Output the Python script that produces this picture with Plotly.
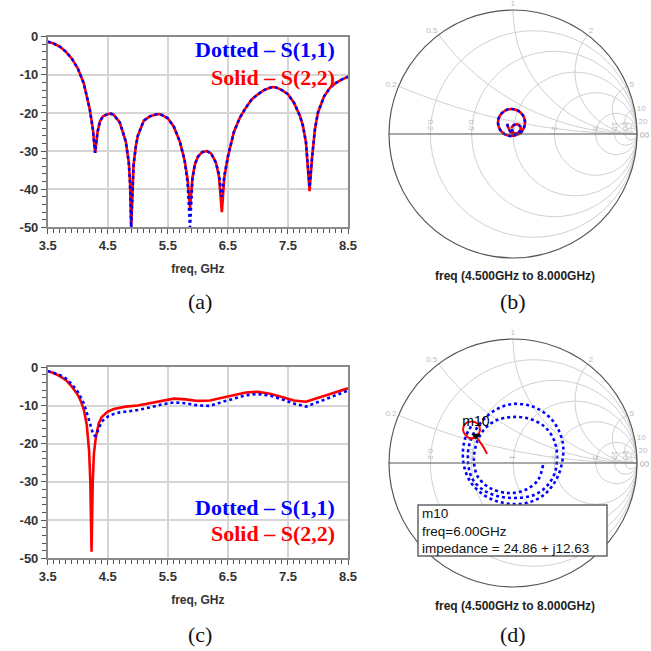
import numpy as np
import plotly.graph_objects as go

W = H = 651

def px(x):
    return x / W

def py(y):
    return 1 - y / H

# ---------------- DATA ----------------
# panel (a): return loss, GHz / dB
freq_a = [3.5, 3.6, 3.7, 3.8, 3.9, 4.0, 4.1, 4.2, 4.25, 4.29, 4.33, 4.37, 4.42,
          4.5, 4.55, 4.6, 4.7, 4.8, 4.85, 4.87, 4.89, 4.91, 4.93, 4.97,
          5.0, 5.1, 5.2, 5.3, 5.35, 5.4, 5.5, 5.6, 5.7, 5.78, 5.83, 5.87, 5.91, 5.95,
          6.0, 6.07, 6.15, 6.22, 6.3, 6.35, 6.4, 6.44,
          6.5, 6.6, 6.7, 6.8, 6.9, 7.0, 7.1, 7.2, 7.25, 7.3, 7.4, 7.5,
          7.6, 7.7, 7.75, 7.8, 7.86, 7.9, 7.95, 8.0, 8.1, 8.2, 8.3, 8.4, 8.5]
s22_a = [-1.3, -1.8, -2.6, -3.9, -5.7, -8.3, -12.2, -19.0, -24.0, -30.5, -25.0, -22.2, -20.9,
         -20.3, -20.2, -20.5, -22.5, -27.5, -33.0, -38.0, -50.0, -38.5, -33.5, -28.5,
         -26.0, -22.0, -20.9, -20.4, -20.3, -20.5, -21.4, -23.6, -27.5, -32.5, -37.5, -45.0, -37.0, -33.5,
         -31.5, -30.3, -30.0, -30.6, -33.0, -36.5, -46.0, -37.0,
         -31.5, -25.0, -21.2, -18.6, -16.4, -15.1, -14.0, -13.4, -13.2, -13.3, -14.0, -15.1,
         -17.3, -20.8, -23.4, -27.7, -40.5, -32.0, -24.2, -19.9, -15.7, -13.4, -12.1, -11.2, -10.5]
s11_a = [-1.3, -1.8, -2.6, -3.9, -5.7, -8.3, -12.2, -19.0, -24.0, -30.5, -25.0, -22.2, -20.9,
         -20.3, -20.2, -20.5, -22.5, -27.5, -33.0, -38.0, -50.0, -38.5, -33.5, -28.5,
         -26.0, -22.0, -20.9, -20.4, -20.3, -20.5, -21.4, -23.6, -27.5, -32.5, -38.5, -50.0, -37.5, -33.5,
         -31.5, -30.3, -30.0, -30.6, -33.0, -36.0, -42.0, -36.5,
         -31.5, -25.0, -21.2, -18.6, -16.4, -15.1, -14.0, -13.4, -13.2, -13.3, -14.0, -15.1,
         -17.3, -20.8, -23.4, -27.7, -39.5, -32.0, -24.2, -19.9, -15.7, -13.4, -12.1, -11.2, -10.5]

# panel (c)
freq_c = [3.5, 3.6, 3.7, 3.8, 3.9, 4.0, 4.05, 4.1, 4.15, 4.19, 4.21, 4.23, 4.25, 4.27, 4.3,
          4.35, 4.4, 4.5, 4.6, 4.7, 4.8, 5.0, 5.2, 5.4, 5.6, 5.8, 6.0, 6.2, 6.4, 6.6, 6.8,
          7.0, 7.2, 7.4, 7.6, 7.8, 8.0, 8.2, 8.4, 8.5]
s22_c = [-1.0, -1.5, -2.3, -3.3, -5.0, -7.2, -8.8, -11.0, -15.0, -22.0, -30.0, -48.3, -30.0, -22.5, -18.5,
         -14.7, -13.0, -11.6, -10.9, -10.5, -10.3, -10.0, -9.4, -8.7, -8.2, -8.4, -8.8, -8.7, -8.0, -7.2, -6.6,
         -6.4, -6.9, -7.8, -8.7, -9.0, -8.0, -6.9, -5.9, -5.5]
s11_c = [-1.0, -1.4, -2.0, -2.9, -4.4, -6.4, -7.8, -9.4, -11.8, -14.0, -15.2, -16.4, -17.2, -17.8, -18.0,
         -16.0, -14.2, -12.9, -12.2, -11.8, -11.6, -11.2, -10.5, -9.7, -9.2, -9.4, -10.0, -10.1, -9.1, -8.1, -7.3,
         -7.0, -7.4, -8.4, -9.5, -10.3, -9.1, -7.7, -6.6, -6.1]

x_tick_vals = [3.5, 4.5, 5.5, 6.5, 7.5, 8.5]
x_tick_text = ["3.5", "4.5", "5.5", "6.5", "7.5", "8.5"]
y_tick_vals = [0, -10, -20, -30, -40, -50]
y_tick_text = ["0", "-10", "-20", "-30", "-40", "-50"]

# panel (b): reflection coefficient (Gamma)
gam_b_re = [-0.048, -0.024, 0.008, 0.056, 0.056, 0.024, -0.008, 0.000, 0.043, 0.082, 0.097,
            0.082, 0.043, -0.012, -0.067, -0.106, -0.121, -0.106, -0.067, -0.016, 0.024]
gam_b_im = [0.081, 0.024, -0.004, 0.024, 0.065, 0.077, 0.056, 0.016, -0.002, 0.038, 0.093,
            0.148, 0.187, 0.202, 0.187, 0.148, 0.093, 0.038, -0.002, -0.016, -0.008]

# panel (d): S(1,1) spiral and S(2,2) small loop (Gamma)
gam_d11_re = [0.242, 0.202, 0.097, -0.040, -0.185, -0.282, -0.315, -0.298, -0.242, -0.145, -0.008,
              0.137, 0.258, 0.331, 0.355, 0.339, 0.274, 0.169, 0.016, -0.129, -0.250, -0.331,
              -0.363, -0.355, -0.315, -0.234, -0.129, 0.000, 0.145, 0.266, 0.355, 0.403, 0.395,
              0.347, 0.258, 0.137, 0.000, -0.137, -0.258, -0.347, -0.395, -0.403, -0.379, -0.331]
gam_d11_im = [-0.016, -0.137, -0.218, -0.242, -0.202, -0.113, 0.008, 0.145, 0.258, 0.339, 0.371,
              0.355, 0.290, 0.185, 0.065, -0.073, -0.185, -0.258, -0.282, -0.266, -0.210, -0.121,
              0.008, 0.137, 0.242, 0.355, 0.435, 0.476, 0.460, 0.395, 0.290, 0.153, 0.000,
              -0.137, -0.250, -0.315, -0.331, -0.306, -0.242, -0.145, -0.024, 0.105, 0.218, 0.306]
gam_d22_re = [-0.210, -0.234, -0.266, -0.298, -0.339, -0.379, -0.403, -0.387, -0.335, -0.282, -0.266, -0.290, -0.331]
gam_d22_im = [0.073, 0.121, 0.169, 0.210, 0.198, 0.222, 0.266, 0.315, 0.335, 0.315, 0.266, 0.218, 0.194]

# marker m10 (impedance, ohm, Z0 = 50)
m10_label = "m10"
m10_freq = "6.00GHz"
m10_r = 24.86
m10_x = 12.63
z0 = 50.0

smith_ticks = [0.2, 0.5, 1, 2, 5, 10, 20]


def to_z(gre, gim):
    g = np.array(gre) + 1j * np.array(gim)
    z = (1 + g) / (1 - g)
    return z.real, z.imag


BLUE = "#0000ff"
RED = "#ff0000"
DOT = "3px,3px"

fig = go.Figure()

# (a)
fig.add_trace(go.Scatter(x=freq_a, y=s22_a, mode="lines", line=dict(color=RED, width=2.6),
                         xaxis="x", yaxis="y", showlegend=False))
fig.add_trace(go.Scatter(x=freq_a, y=s11_a, mode="lines", line=dict(color=BLUE, width=2.6, dash=DOT),
                         xaxis="x", yaxis="y", showlegend=False))
# (c)
fig.add_trace(go.Scatter(x=freq_c, y=s22_c, mode="lines", line=dict(color=RED, width=2.6),
                         xaxis="x2", yaxis="y2", showlegend=False))
fig.add_trace(go.Scatter(x=freq_c, y=s11_c, mode="lines", line=dict(color=BLUE, width=2.6, dash=DOT),
                         xaxis="x2", yaxis="y2", showlegend=False))

# (b)
zr, zi = to_z(gam_b_re, gam_b_im)
fig.add_trace(go.Scattersmith(real=zr, imag=zi, mode="lines", line=dict(color=RED, width=2.6, shape="spline"),
                              subplot="smith", showlegend=False))
fig.add_trace(go.Scattersmith(real=zr, imag=zi, mode="lines",
                              line=dict(color=BLUE, width=2.6, dash=DOT, shape="spline"),
                              subplot="smith", showlegend=False))
# (d)
zr, zi = to_z(gam_d11_re, gam_d11_im)
fig.add_trace(go.Scattersmith(real=zr, imag=zi, mode="lines",
                              line=dict(color=BLUE, width=2.6, dash=DOT, shape="spline"),
                              subplot="smith2", showlegend=False))
zr, zi = to_z(gam_d22_re, gam_d22_im)
fig.add_trace(go.Scattersmith(real=zr, imag=zi, mode="lines", line=dict(color=RED, width=2, shape="spline"),
                              subplot="smith2", showlegend=False))
fig.add_trace(go.Scattersmith(real=[m10_r / z0], imag=[m10_x / z0], mode="markers+text",
                              marker=dict(symbol="triangle-down", size=8, color="black"),
                              text=[m10_label], textposition="top center",
                              textfont=dict(family="Arial, Liberation Sans", size=14, color="black"),
                              subplot="smith2", showlegend=False))

tickfont = dict(family="Arial, Liberation Sans", size=13, color="#333333", weight="bold")
grid = "#d6d6d6"


def xaxis(dom_y_anchor):
    return dict(domain=[px(47.7), px(348)], range=[3.5, 8.5], anchor=dom_y_anchor, automargin=False,
                tickmode="array", tickvals=x_tick_vals, ticktext=x_tick_text,
                showgrid=True, gridcolor=grid, gridwidth=1.5, zeroline=False,
                showline=True, linecolor="#8a8a8a", linewidth=1.5, mirror=True,
                ticks="outside", ticklen=5, tickcolor="#555", tickwidth=1,
                minor=dict(tickmode="linear", tick0=3.5, dtick=0.1, ticks="outside", ticklen=4,
                           tickcolor="#555", showgrid=False),
                tickfont=tickfont,
                title=dict(text="freq, GHz", standoff=13,
                           font=dict(family="Arial, Liberation Sans", size=12, color="#333333", weight="bold")))


def yaxis(top, bottom, anchor):
    return dict(domain=[py(bottom), py(top)], range=[-50, 0], anchor=anchor, automargin=False,
                tickmode="array", tickvals=y_tick_vals, ticktext=y_tick_text,
                showgrid=True, gridcolor=grid, gridwidth=1.5, zeroline=False,
                showline=True, linecolor="#8a8a8a", linewidth=1.5, mirror=True,
                ticks="outside", ticklen=5, tickcolor="#555", tickwidth=1,
                minor=dict(tickmode="linear", tick0=0, dtick=2, ticks="outside", ticklen=4,
                           tickcolor="#555", showgrid=False),
                tickfont=tickfont)


smith_label_font = dict(family="Arial, Liberation Sans", size=8, color="#bbbbbb")


def smith(top):
    return dict(domain=dict(x=[px(389), px(637)], y=[py(top + 248), py(top)]),
                bgcolor="white",
                realaxis=dict(tickvals=smith_ticks, gridcolor="#d0d0d0", gridwidth=1,
                              linecolor="#555555", linewidth=1.2, showline=True,
                              tickfont=smith_label_font, ticks=""),
                imaginaryaxis=dict(tickvals=smith_ticks, gridcolor="#d0d0d0", gridwidth=1,
                                   linecolor="#555555", linewidth=1.2, showline=True,
                                   tickfont=smith_label_font, ticks=""))


serif_b = dict(family="Times New Roman, Liberation Serif", size=22, weight="bold")
ann = []
for (yd, ys) in [(50, 77), (507, 533)]:
    ann.append(dict(x=px(337), y=py(yd), xref="paper", yref="paper", xanchor="right", yanchor="middle",
                    text="Dotted \u2013 S(1,1)", showarrow=False, font=dict(serif_b, color=BLUE)))
    ann.append(dict(x=px(337), y=py(ys), xref="paper", yref="paper", xanchor="right", yanchor="middle",
                    text="Solid \u2013 S(2,2)", showarrow=False, font=dict(serif_b, color=RED)))

cap_font = dict(family="Times New Roman, Liberation Serif", size=22, color="#111111")
for (t, x, y) in [("(a)", 200, 301), ("(b)", 513, 301), ("(c)", 200, 634), ("(d)", 513, 634)]:
    ann.append(dict(x=px(x), y=py(y), xref="paper", yref="paper", xanchor="center", yanchor="middle",
                    text=t, showarrow=False, font=cap_font))

sf = dict(family="Arial, Liberation Sans", size=12, color="#222222", weight="bold")
for y in [276, 606]:
    ann.append(dict(x=px(515), y=py(y), xref="paper", yref="paper", xanchor="center", yanchor="middle",
                    text="freq (4.500GHz to 8.000GHz)", showarrow=False, font=sf))

mf = dict(family="Arial, Liberation Sans", size=13.5, color="#111111")
box_text = "<br>".join([m10_label, "freq=" + m10_freq, "impedance = %.2f + j%.2f" % (m10_r, m10_x)])
ann.append(dict(x=px(420), y=py(531), xref="paper", yref="paper", xanchor="left", yanchor="middle",
                align="left", text=box_text, showarrow=False, font=mf))

shapes = [dict(type="rect", xref="paper", yref="paper", x0=px(418), x1=px(607), y0=py(556), y1=py(505),
               line=dict(color="#666666", width=1.5), fillcolor="white", layer="above")]

fig.update_layout(
    width=W, height=H, margin=dict(l=0, r=0, t=0, b=0),
    paper_bgcolor="white", plot_bgcolor="white",
    xaxis=xaxis("y"), yaxis=yaxis(36.7, 227.3, "x"),
    xaxis2=xaxis("y2"), yaxis2=yaxis(367.3, 558.3, "x2"),
    smith=smith(10), smith2=smith(339),
    annotations=ann, shapes=shapes,
)

fig.write_html("out.html", config={"displayModeBar": False},
               post_script="document.body.style.margin='0';document.body.style.padding='0';")
